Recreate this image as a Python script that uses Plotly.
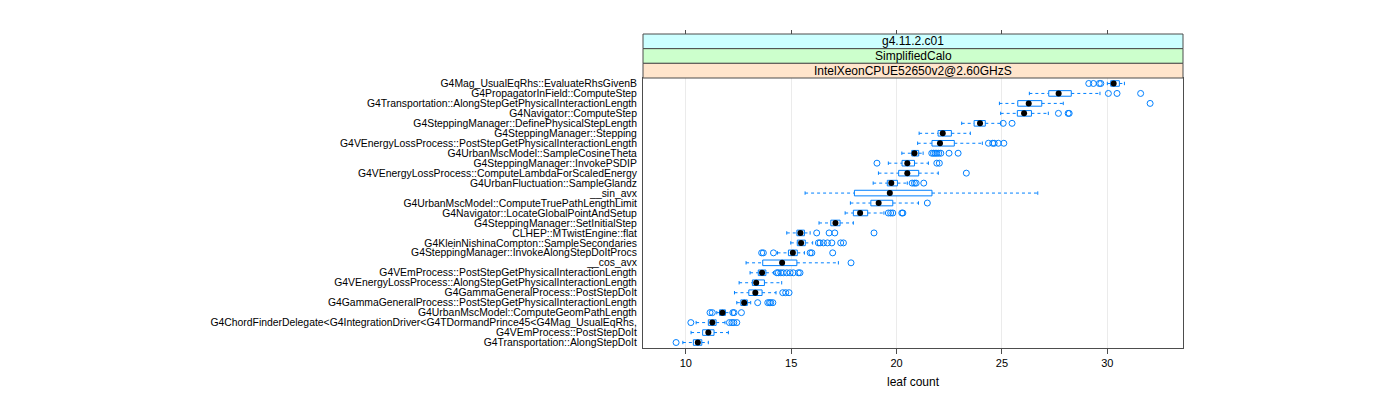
import plotly.graph_objects as go

categories = [
    "G4Mag_UsualEqRhs::EvaluateRhsGivenB",
    "G4PropagatorInField::ComputeStep",
    "G4Transportation::AlongStepGetPhysicalInteractionLength",
    "G4Navigator::ComputeStep",
    "G4SteppingManager::DefinePhysicalStepLength",
    "G4SteppingManager::Stepping",
    "G4VEnergyLossProcess::PostStepGetPhysicalInteractionLength",
    "G4UrbanMscModel::SampleCosineTheta",
    "G4SteppingManager::InvokePSDIP",
    "G4VEnergyLossProcess::ComputeLambdaForScaledEnergy",
    "G4UrbanFluctuation::SampleGlandz",
    "__sin_avx",
    "G4UrbanMscModel::ComputeTruePathLengthLimit",
    "G4Navigator::LocateGlobalPointAndSetup",
    "G4SteppingManager::SetInitialStep",
    "CLHEP::MTwistEngine::flat",
    "G4KleinNishinaCompton::SampleSecondaries",
    "G4SteppingManager::InvokeAlongStepDoItProcs",
    "__cos_avx",
    "G4VEmProcess::PostStepGetPhysicalInteractionLength",
    "G4VEnergyLossProcess::AlongStepGetPhysicalInteractionLength",
    "G4GammaGeneralProcess::PostStepDoIt",
    "G4GammaGeneralProcess::PostStepGetPhysicalInteractionLength",
    "G4UrbanMscModel::ComputeGeomPathLength",
    "G4ChordFinderDelegate<G4IntegrationDriver<G4TDormandPrince45<G4Mag_UsualEqRhs,",
    "G4VEmProcess::PostStepDoIt",
    "G4Transportation::AlongStepDoIt",
]

lower_whisker = [30.00, 26.30, 24.88, 24.94, 23.09, 21.07, 21.00, 20.25, 19.61, 19.14,
                 18.89, 15.66, 17.81, 17.56, 16.32, 14.79, 14.98, 14.35, 12.86, 13.05,
                 12.53, 12.31, 12.42, 11.47, 10.49, 10.25, 9.86]
q1 = [30.16, 27.22, 25.75, 25.73, 23.68, 21.97, 21.68, 20.72, 20.26, 20.10,
      19.56, 18.00, 18.78, 17.95, 16.88, 15.27, 15.29, 14.87, 13.65, 13.44,
      13.16, 12.99, 12.61, 11.60, 11.07, 10.80, 10.36]
median = [30.30, 27.69, 26.27, 26.05, 23.96, 22.19, 22.06, 20.85, 20.51, 20.51,
          19.75, 19.68, 19.15, 18.27, 17.10, 15.44, 15.47, 15.08, 14.57, 13.62,
          13.34, 13.30, 12.77, 11.74, 11.26, 11.07, 10.57]
q3 = [30.57, 28.29, 26.89, 26.40, 24.21, 22.60, 22.74, 21.05, 20.85, 21.05,
      20.04, 21.68, 19.82, 18.63, 17.32, 15.63, 15.67, 15.29, 15.27, 13.80,
      13.73, 13.62, 12.92, 11.88, 11.44, 11.34, 10.76]
upper_whisker = [30.81, 29.65, 27.91, 27.20, 24.95, 23.50, 24.07, 21.26, 21.51, 21.98,
                 20.51, 26.70, 21.04, 19.40, 17.95, 15.90, 16.02, 15.63, 17.24, 14.16,
                 14.55, 14.28, 13.08, 12.18, 11.86, 12.02, 11.07]
outliers = [
    [29.12, 29.34, 29.62, 29.69],
    [30.05, 30.46, 31.58],
    [32.03],
    [27.68, 28.14, 28.19],
    [25.06, 25.48],
    [],
    [24.36, 24.56, 24.63, 24.83, 25.09],
    [21.67, 21.75, 21.83, 21.91, 22.00, 22.10, 22.49, 22.92],
    [19.07, 21.91, 22.03],
    [23.31],
    [20.74, 20.85, 20.93, 21.29],
    [],
    [21.46],
    [19.61, 19.72, 19.82, 20.25, 20.30],
    [],
    [16.21, 16.80, 17.07, 18.93],
    [16.29, 16.37, 16.53, 16.72, 16.93, 17.35, 17.48],
    [13.60, 13.68, 14.16, 15.90, 15.98, 16.97],
    [17.84],
    [14.32, 14.39, 14.51, 14.63, 14.79, 14.95, 15.10, 15.34, 15.42],
    [],
    [14.60, 14.74, 14.90],
    [13.41, 13.89, 13.97, 14.03, 14.13],
    [11.15, 11.26, 12.23, 12.29, 12.64],
    [10.24, 12.07, 12.19, 12.28, 12.42],
    [],
    [9.54],
]
strip_labels = ["g4.11.2.c01", "SimplifiedCalo", "IntelXeonCPUE52650v2@2.60GHzS"]
strip_colors = ["#ccffff", "#ccffcc", "#ffe5cc"]
x_ticks = [10, 15, 20, 25, 30]

BLUE = "#0080ff"
rows = list(range(1, len(categories) + 1))
H = 0.28   # half box height
C = 0.17   # half cap height

bx, by = [], []
wx, wy = [], []
cx, cy = [], []
ox, oy = [], []
for k, lw, a, b, uw, outs in zip(rows, lower_whisker, q1, q3, upper_whisker, outliers):
    bx += [a, b, b, a, a, None]
    by += [k - H, k - H, k + H, k + H, k - H, None]
    wx += [lw, a, None, b, uw, None]
    wy += [k, k, None, k, k, None]
    cx += [lw, lw, None, uw, uw, None]
    cy += [k - C, k + C, None, k - C, k + C, None]
    ox += outs
    oy += [k] * len(outs)

fig = go.Figure()
fig.add_trace(go.Scatter(x=wx, y=wy, mode="lines",
                         line=dict(color=BLUE, width=1, dash="3px,3px"), hoverinfo="skip"))
fig.add_trace(go.Scatter(x=cx, y=cy, mode="lines",
                         line=dict(color=BLUE, width=1), hoverinfo="skip"))
fig.add_trace(go.Scatter(x=bx, y=by, mode="lines", fill="toself", fillcolor="white",
                         line=dict(color=BLUE, width=1), hoverinfo="skip"))
fig.add_trace(go.Scatter(x=ox, y=oy, mode="markers",
                         marker=dict(symbol="circle-open", size=6, color=BLUE, line=dict(width=1))))
fig.add_trace(go.Scatter(x=median, y=rows, mode="markers",
                         marker=dict(symbol="circle", size=6, color="black")))
# invisible trace for top ticks axis
fig.add_trace(go.Scatter(x=[x_ticks[0]], y=[1], xaxis="x2", mode="markers",
                         marker=dict(opacity=0), hoverinfo="skip"))

xr = [7.97, 33.59]
panel_frac = 270 / 314
fig.update_layout(
    width=1400, height=400,
    margin=dict(l=635, r=225, t=26, b=60),
    paper_bgcolor="white", plot_bgcolor="white",
    showlegend=False,
    font=dict(family="Liberation Sans, Arial, sans-serif", color="black"),
    xaxis=dict(range=xr, tickvals=x_ticks, ticks="outside", ticklen=5, tickcolor="#4d4d4d",
               showgrid=True, gridcolor="#ebebeb", gridwidth=1, zeroline=False,
               showline=True, linecolor="#4d4d4d", linewidth=1, mirror=True,
               tickfont=dict(size=11), title=dict(text="leaf count", font=dict(size=12), standoff=9)),
    xaxis2=dict(range=xr, tickvals=x_ticks, overlaying="x", side="top", anchor="free", position=1,
                ticks="outside", ticklen=4, tickcolor="#4d4d4d", showticklabels=False,
                showgrid=False, zeroline=False, showline=False),
    yaxis=dict(domain=[0, panel_frac], range=[27.55, 0.45], tickvals=rows, ticktext=categories,
               showgrid=False, zeroline=False, ticks="", showline=True, linecolor="#4d4d4d",
               linewidth=1, mirror=True, tickfont=dict(size=10.4), ticklabelstandoff=3),
)

n = len(strip_labels)
step = (1 - panel_frac) / n
for i, (lab, col) in enumerate(zip(strip_labels, strip_colors)):
    y1 = 1 - i * step
    y0 = y1 - step
    fig.add_shape(type="rect", xref="paper", yref="paper", x0=0, x1=1, y0=y0, y1=y1,
                  fillcolor=col, line=dict(color="#4d4d4d", width=1), layer="above")
    fig.add_annotation(xref="paper", yref="paper", x=0.5, y=(y0 + y1) / 2, text=lab,
                       showarrow=False, font=dict(size=12), yanchor="middle")

fig.write_html("out.html")
